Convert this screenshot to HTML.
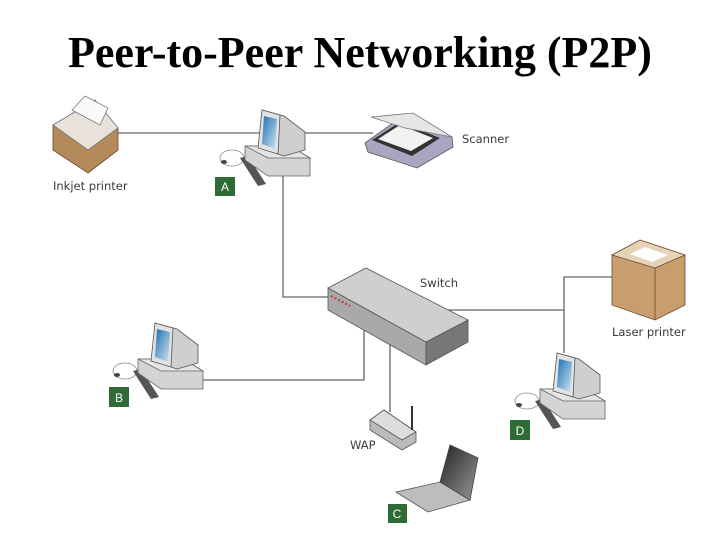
<!DOCTYPE html>
<html><head><meta charset="utf-8"><style>
html,body{margin:0;padding:0;background:#fff;width:720px;height:540px;overflow:hidden}
svg{display:block}
.t{font-family:"Liberation Serif",serif;font-weight:bold;font-size:44px;fill:#000}
.l{font-family:"DejaVu Sans","Liberation Sans",sans-serif;font-size:11.5px;fill:#3a3a3a}
.b{font-family:"Liberation Sans",sans-serif;font-size:12px;fill:#fff}
</style></head><body>
<svg width="720" height="540" viewBox="0 0 720 540">
<defs>
<linearGradient id="scr" x1="0" y1="0" x2="1" y2="1"><stop offset="0" stop-color="#1f6fb0"/><stop offset="1" stop-color="#cfe6f5"/></linearGradient>
<linearGradient id="lap" x1="0" y1="0" x2="1" y2="1"><stop offset="0" stop-color="#222"/><stop offset="1" stop-color="#999"/></linearGradient>
<g id="pc">
 <ellipse cx="-18" cy="48" rx="12" ry="8" fill="none" stroke="#888" stroke-width="0.8"/>
 <ellipse cx="-26" cy="52" rx="3" ry="2" fill="#444"/>
 <polygon points="-10,48 -2,46 16,74 8,76" fill="#555"/>
 <polygon points="-5,36 40,36 60,48 60,66 18,66 -5,50" fill="#d4d4d4" stroke="#666" stroke-width="0.8"/>
 <polygon points="-5,36 40,36 60,48 18,48" fill="#e4e4e4" stroke="#666" stroke-width="0.8"/>
 <polygon points="12,0 34,6 55,22 55,40 34,46 10,38" fill="#cfcfcf" stroke="#555" stroke-width="0.8"/>
 <polygon points="12,0 30,5 28,44 8,38" fill="#e2e2e2" stroke="#555" stroke-width="0.8"/>
 <polygon points="14,6 27,9 25,39 12,34" fill="url(#scr)"/>
</g>
</defs>
<text class="t" x="360" y="67" text-anchor="middle">Peer-to-Peer Networking (P2P)</text>
<g stroke="#666" stroke-width="1.3" fill="none">
 <polyline points="117,133 373,133"/>
 <polyline points="283,176 283,297 328,297"/>
 <polyline points="448,310 564,310"/>
 <polyline points="564,353 564,277 618,277"/>
 <polyline points="364,327 364,380 200,380"/>
 <polyline points="390,343 390,412"/>
</g>
<polygon points="53,125 95,100 118,128 118,150 88,173 53,150" fill="#b48a5a" stroke="#6b4a2a" stroke-width="0.8"/>
<polygon points="53,125 95,100 118,128 88,150" fill="#e8e2da" stroke="#777" stroke-width="0.8"/>
<polygon points="72,110 85,96 108,108 100,125" fill="#fafafa" stroke="#777" stroke-width="0.8"/>
<text class="l" x="53" y="190">Inkjet printer</text>
<use href="#pc" x="250" y="110"/>
<rect x="215" y="177" width="20" height="19" fill="#2e6b35"/><text class="b" x="225" y="191" text-anchor="middle">A</text>
<polygon points="365,143 400,118 452,137 453,147 417,168 368,152" fill="#a9a6c2" stroke="#555" stroke-width="0.8"/>
<polygon points="372,140 400,122 440,138 412,156" fill="#333"/>
<polygon points="378,139 400,125 433,138 411,151" fill="#f2f2f2"/>
<polygon points="371,117 413,113 452,137 405,128" fill="#e6e6e6" stroke="#777" stroke-width="0.8"/>
<text class="l" x="462" y="143">Scanner</text>
<polygon points="328,288 328,310 426,365 426,342" fill="#a9a9a9" stroke="#555" stroke-width="0.8"/>
<polygon points="426,342 468,320 468,342 426,365" fill="#777" stroke="#555" stroke-width="0.8"/>
<polygon points="328,288 366,268 468,320 426,342" fill="#cfcfcf" stroke="#555" stroke-width="0.8"/>
<line x1="331" y1="296" x2="350" y2="306" stroke="#c33" stroke-width="2" stroke-dasharray="2 2"/>
<text class="l" x="420" y="287">Switch</text>
<polygon points="612,255 640,240 685,255 685,305 655,320 612,305" fill="#c99e6e" stroke="#6b4a2a" stroke-width="0.8"/>
<polygon points="612,255 640,240 685,255 655,268" fill="#e6d2b6" stroke="#6b4a2a" stroke-width="0.8"/>
<polygon points="630,254 645,247 668,255 652,262" fill="#fff"/>
<line x1="655" y1="268" x2="655" y2="320" stroke="#6b4a2a" stroke-width="0.8"/>
<text class="l" x="612" y="336">Laser printer</text>
<use href="#pc" x="143" y="323"/>
<rect x="109" y="387" width="20" height="20" fill="#2e6b35"/><text class="b" x="119" y="402" text-anchor="middle">B</text>
<use href="#pc" x="545" y="353"/>
<rect x="510" y="420" width="20" height="20" fill="#2e6b35"/><text class="b" x="520" y="435" text-anchor="middle">D</text>
<polygon points="370,420 384,410 416,432 416,442 402,450 370,430" fill="#bbb" stroke="#555" stroke-width="0.8"/>
<polygon points="370,420 384,410 416,432 402,440" fill="#ddd" stroke="#555" stroke-width="0.8"/>
<line x1="412" y1="406" x2="412" y2="430" stroke="#333" stroke-width="2"/>
<text class="l" x="350" y="449">WAP</text>
<polygon points="396,492 440,482 470,500 428,512" fill="#bdbdbd" stroke="#555" stroke-width="0.8"/>
<polygon points="440,482 450,445 478,458 470,500" fill="url(#lap)" stroke="#444" stroke-width="0.8"/>
<rect x="388" y="504" width="19" height="19" fill="#2e6b35"/><text class="b" x="397" y="518" text-anchor="middle">C</text>
</svg>
</body></html>
